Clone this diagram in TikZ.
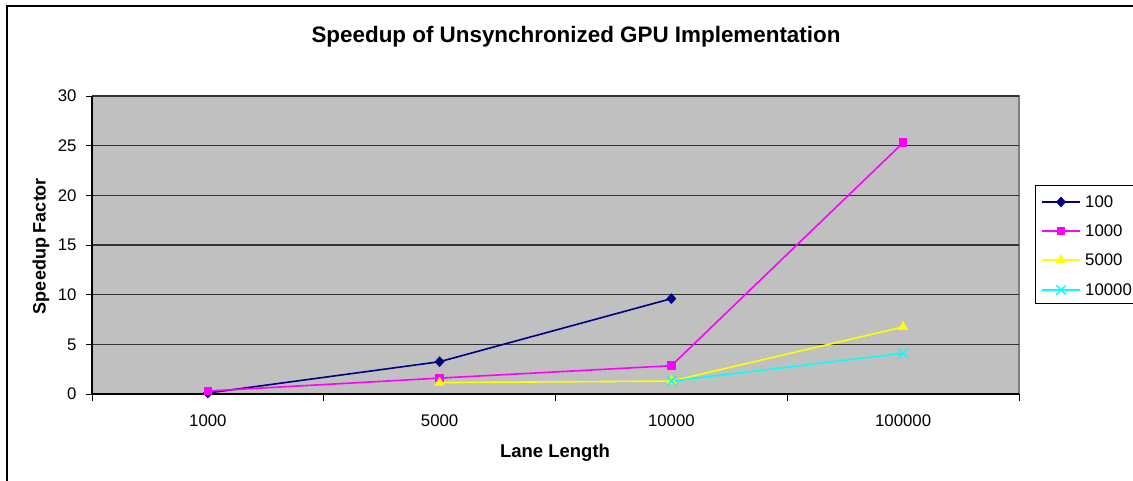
\documentclass[tikz,border=0pt]{standalone}
\usepackage{fontspec}
\setmainfont{Liberation Sans}
\usetikzlibrary{shapes.geometric,shapes.misc}
\definecolor{plotgray}{HTML}{C0C0C0}
\definecolor{sNavy}{HTML}{000080}
\definecolor{sMag}{HTML}{FF00FF}
\definecolor{sYel}{HTML}{FFFF00}
\definecolor{sCyan}{HTML}{00FFFF}
\tikzset{
  tick/.style={font=\fontsize{16.8}{18}\selectfont},
  grid/.style={draw=black!80, line width=1.3pt},
  ser/.style={line width=1.6pt},
  mdia/.style={diamond, fill=sNavy, inner sep=0pt, minimum width=10pt, minimum height=11pt},
  msq/.style={rectangle, fill=sMag, inner sep=0pt, minimum size=8.5pt},
  mtri/.style={regular polygon, regular polygon sides=3, fill=sYel, inner sep=0pt, minimum size=12pt},
  mx/.style={cross out, draw=sCyan, line width=1.4pt, inner sep=0pt, minimum size=8pt},
}
\newcommand{\PX}[1]{92+231.75*(#1-0.5)}
\newcommand{\PY}[1]{394-9.933*(#1)}
\begin{document}
\begin{tikzpicture}[x=1pt,y=-1pt]
\useasboundingbox (0,0) rectangle (1133,481);
\fill[white] (0,0) rectangle (1133,481);
% outer frame
\draw[line width=1.6pt] (7,6) rectangle (1145,495);
% title
\node[font=\bfseries\fontsize{22.4}{24}\selectfont] (title) at (576,37) {Speedup of Unsynchronized GPU Implementation};
% plot area
\fill[plotgray] (92,96) rectangle (1019,394);
\draw[draw=gray, line width=1.2pt] (92,96) -- (1019,96) -- (1019,394);
\foreach \v in {5,10,15,20,25} {
  \draw[grid] (92,{\PY{\v}}) -- (1019,{\PY{\v}});
}
\draw[line width=1.2pt, black!80] (92,96) -- (1019,96);
% axes
\draw[line width=1.3pt] (92,96) -- (92,394) -- (1019,394);
\foreach \v in {0,5,...,30} {
  \draw[line width=1pt] (86,{\PY{\v}}) -- (92,{\PY{\v}});
  \node[tick, anchor=east] (yl\v) at (80,{\PY{\v}}) {\v};
}
\foreach \k in {0,...,4} {
  \draw[line width=1pt] ({92+231.75*\k},394) -- ({92+231.75*\k},401);
}
\foreach \i/\lab in {1/1000,2/5000,3/10000,4/100000} {
  \node[tick] (xl\i) at ({\PX{\i}},421) {\lab};
}
% axis titles
\node[font=\bfseries\fontsize{18.5}{20}\selectfont] (xt) at (555,453) {Lane Length};
\node[font=\bfseries\fontsize{18}{20}\selectfont, rotate=90] (yt) at (41,246) {Speedup Factor};
% data coordinates
\coordinate (a1) at ({\PX{1}},{\PY{0.1}});
\coordinate (a2) at ({\PX{2}},{\PY{3.25}});
\coordinate (a3) at ({\PX{3}},{\PY{9.6}});
\coordinate (b1) at ({\PX{1}},{\PY{0.3}});
\coordinate (b2) at ({\PX{2}},{\PY{1.6}});
\coordinate (b3) at ({\PX{3}},{\PY{2.85}});
\coordinate (b4) at ({\PX{4}},{\PY{25.3}});
\coordinate (c2) at ({\PX{2}},{\PY{1.15}});
\coordinate (c3) at ({\PX{3}},{\PY{1.3}});
\coordinate (c4) at ({\PX{4}},{\PY{6.75}});
\coordinate (d3) at ({\PX{3}},{\PY{1.3}});
\coordinate (d4) at ({\PX{4}},{\PY{4.1}});
% series lines
\draw[ser, sNavy] (a1) -- (a2) -- (a3);
\draw[ser, sMag] (b1) -- (b2) -- (b3) -- (b4);
\draw[ser, sYel] (c2) -- (c3) -- (c4);
\draw[ser, sCyan] (d3) -- (d4);
% markers
\foreach \p in {a1,a2,a3} { \node[mdia] at (\p) {}; }
\foreach \p in {b1,b2,b3,b4} { \node[msq] at (\p) {}; }
\foreach \p in {c2,c3,c4} { \node[mtri] at (\p) {}; }
\foreach \p in {d3,d4} { \node[mx] at (\p) {}; }
% legend
\draw[line width=1pt, fill=white] (1035,186) rectangle (1145,303);
\foreach \yy/\st/\col/\lab/\n in {202/mdia/sNavy/100/l1, 231/msq/sMag/1000/l2, 260/mtri/sYel/5000/l3, 290/mx/sCyan/10000/l4} {
  \coordinate (\n a) at (1042,\yy);
  \coordinate (\n b) at (1080,\yy);
  \draw[ser, \col] (\n a) -- (\n b);
  \node[\st] (\n m) at (1061,\yy) {};
  \node[tick, anchor=west, inner sep=0pt] (\n t) at (1085,\yy) {\lab};
}
\end{tikzpicture}
\end{document}
